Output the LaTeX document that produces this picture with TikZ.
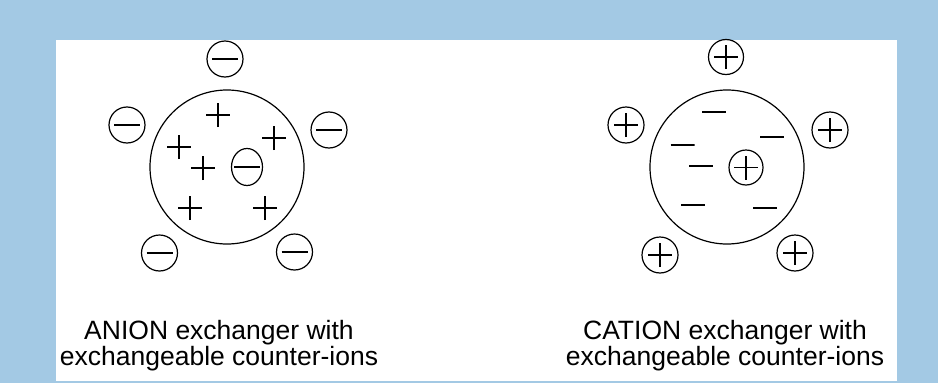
\documentclass[tikz,border=0pt]{standalone}
\usepackage{fontspec}
\setmainfont{Liberation Sans}
\usetikzlibrary{shapes.geometric}
\definecolor{bgblue}{RGB}{163,201,228}
\tikzset{
  ionbase/.style={ellipse, draw=black, line width=1.2pt, inner sep=0pt, minimum width=36pt, minimum height=36pt},
  negion/.style={ionbase, path picture={\draw[line width=1.5pt] ([xshift=-13pt]path picture bounding box.center) -- ([xshift=13pt]path picture bounding box.center);}},
  posion/.style={ionbase, path picture={\draw[line width=1.5pt] ([xshift=-12pt]path picture bounding box.center) -- ([xshift=12pt]path picture bounding box.center) ([yshift=-12pt]path picture bounding box.center) -- ([yshift=12pt]path picture bounding box.center);}},
  bead/.style={circle, draw=black, line width=1.2pt, inner sep=0pt, minimum size=154pt},
  plussign/.style={inner sep=0pt, minimum size=24pt, path picture={\draw[line width=1.5pt] ([xshift=-12pt]path picture bounding box.center) -- ([xshift=12pt]path picture bounding box.center) ([yshift=-12pt]path picture bounding box.center) -- ([yshift=12pt]path picture bounding box.center);}},
  minussign/.style={inner sep=0pt, minimum width=24pt, minimum height=4pt, path picture={\draw[line width=1.5pt] ([xshift=-12pt]path picture bounding box.center) -- ([xshift=12pt]path picture bounding box.center);}},
  caption/.style={anchor=north, inner sep=0pt, align=center, font=\fontsize{26.5}{23}\selectfont}
}
\begin{document}
\begin{tikzpicture}[x=1pt,y=-1pt]
\useasboundingbox (0,0) rectangle (938,383);
\fill[bgblue] (0,0) rectangle (938,383);
\fill[white] (56,40) rectangle (897,381);
% anion exchanger
\node[bead] (abead) at (227,167) {};
\node[negion] (at) at (225,59) {};
\node[negion] (al) at (127,125) {};
\node[negion] (ar) at (329,130) {};
\node[negion] (abl) at (159.5,253) {};
\node[negion] (abr) at (294.5,252) {};
\node[negion, minimum width=31pt, minimum height=37pt] (ain) at (247,167) {};
\node[plussign] (ap1) at (218,115) {};
\node[plussign] (ap2) at (274,138) {};
\node[plussign] (ap3) at (179,147) {};
\node[plussign] (ap4) at (203,168) {};
\node[plussign] (ap5) at (190,208) {};
\node[plussign] (ap6) at (265,208) {};
\node[caption] (acap) at (219,320.5) {ANION exchanger with\\exchangeable counter-ions};
% cation exchanger
\node[bead] (cbead) at (727,167) {};
\node[posion, minimum width=35pt, minimum height=35pt] (ct) at (726,57) {};
\node[posion] (cl) at (626,125) {};
\node[posion] (cr) at (830,130) {};
\node[posion] (cbl) at (660,255) {};
\node[posion] (cbr) at (795,253) {};
\node[posion, minimum width=34pt, minimum height=35pt] (cin) at (746,167.5) {};
\node[minussign] (cm1) at (714,112) {};
\node[minussign] (cm2) at (772,137) {};
\node[minussign] (cm3) at (682.5,145) {};
\node[minussign] (cm4) at (701,166) {};
\node[minussign] (cm5) at (693,205) {};
\node[minussign] (cm6) at (765,208) {};
\node[caption] (ccap) at (725,320.5) {CATION exchanger with\\exchangeable counter-ions};
\end{tikzpicture}
\end{document}
